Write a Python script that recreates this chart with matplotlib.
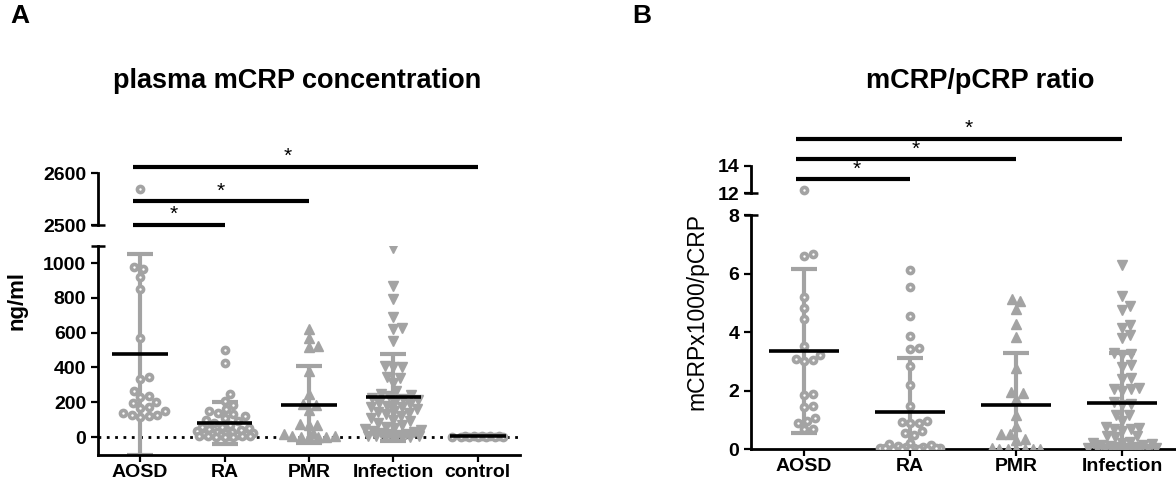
import numpy as np
import matplotlib
matplotlib.use("Agg")
import matplotlib.pyplot as plt

plt.rcParams["font.family"] = ["Liberation Sans", "DejaVu Sans"]

# ---- panel A : plasma mCRP concentration (ng/ml) ----
groups_a = ["AOSD", "RA", "PMR", "Infection", "control"]
aosd_a = [2569, 975, 965, 918, 852, 569, 345, 335, 263, 236, 230, 200, 195,
          170, 165, 150, 140, 128, 125, 120, 115]
ra_a = [502, 425, 249, 209, 186, 160, 150, 140, 130, 120, 110, 100, 90, 80,
        70, 60, 55, 50, 45, 40, 35, 30, 28, 25, 22, 20, 18, 15, 12, 10, 8, 6,
        5, 4, 3, 2, 1, 0]
pmr_a = [620, 569, 525, 520, 381, 247, 190, 182, 153, 75, 70, 68, 25, 20, 5,
         3, 2, 1, 0, 0]
inf_a = [1086, 866, 793, 688, 626, 620, 550, 410, 402, 400, 345, 340, 310,
         263, 250, 240, 235, 225, 220, 210, 200, 195, 190, 180, 175, 170, 160,
         150, 145, 140, 130, 120, 110, 100, 90, 80, 70, 60, 50, 45, 40, 35, 30,
         25, 20, 15, 10, 8, 5, 3, 2, 1, 0, 0]
ctrl_a = [8, 6, 5, 4, 3, 2, 2, 1, 1, 0, 0, 0]
mean_a = [475, 80, 186, 228, 3]
sd_a = [579, 123, 220, 251, 3]
# significance bars: (from group, to group, level, star x)
sig_a = [(0, 4, 2612, 1.75), (0, 2, 2546, 0.95), (0, 1, 2500, 0.4)]

# ---- panel B : mCRP/pCRP ratio ----
groups_b = ["AOSD", "RA", "PMR", "Infection"]
aosd_b = [12.2, 6.67, 6.61, 5.2, 4.82, 4.44, 3.53, 3.22, 3.09, 3.05, 3.02,
          1.88, 1.85, 1.47, 1.45, 1.06, 0.97, 0.89, 0.68, 0.7]
ra_b = [6.13, 5.53, 4.54, 3.85, 3.45, 3.42, 2.83, 2.2, 1.46, 0.97, 0.92, 0.9,
        0.88, 0.6, 0.55, 0.47, 0.2, 0.18, 0.12, 0.1, 0.08, 0.06, 0.05, 0.04,
        0.03, 0.02, 0.02, 0.01, 0.01, 0, 0, 0]
pmr_b = [5.13, 5.05, 4.79, 4.27, 3.83, 2.77, 1.95, 1.9, 1.72, 1.17, 0.78,
         0.51, 0.5, 0.34, 0.3, 0.02, 0.01, 0, 0, 0, 0, 0]
inf_b = [6.28, 5.24, 4.88, 4.74, 4.23, 4.13, 3.91, 3.8, 3.28, 3.25, 3.22,
         2.87, 2.8, 2.43, 2.4, 2.08, 2.06, 2.04, 1.98, 1.6, 1.55, 1.5, 1.17,
         1.15, 0.95, 0.75, 0.72, 0.7, 0.68, 0.6, 0.45, 0.43, 0.4, 0.25, 0.22,
         0.2, 0.18, 0.15, 0.12, 0.1, 0.08, 0.06, 0.05, 0.04, 0.03, 0.02, 0.01,
         0.01, 0, 0, 0, 0]
mean_b = [3.36, 1.26, 1.52, 1.57]
sd_b = [2.8, 1.85, 1.76, 1.71]
sig_b = [(0, 3, 16.0, 1.55), (0, 2, 14.5, 1.05), (0, 1, 13.0, 0.5)]

GRAY = "#a3a3a3"
W, H = 1176, 486
UP = 2  # small lift so the category labels stay inside the canvas
fig = plt.figure(figsize=(W / 100, H / 100), dpi=100)


def px_axes(left, top, right, bottom):
    top -= UP
    bottom -= UP
    return fig.add_axes([left / W, 1 - bottom / H, (right - left) / W, (bottom - top) / H])


def style(ax, xaxis=True):
    for s in ["top", "right"]:
        ax.spines[s].set_visible(False)
    ax.spines["left"].set_linewidth(2)
    ax.spines["bottom"].set_linewidth(2)
    ax.tick_params(width=1.6, length=5)
    ax.tick_params(axis="y", labelsize=14)
    ax.tick_params(axis="x", labelsize=14, pad=1.5)
    for lab in ax.get_yticklabels() + ax.get_xticklabels():
        lab.set_fontweight("bold")
    if not xaxis:
        ax.spines["bottom"].set_visible(False)
        ax.set_xticks([])
    ax.patch.set_alpha(0)


def brk(ax, yfrac, left=7, right=7):
    w = ax.get_position().width * W
    ax.plot([-left / w, right / w], [yfrac, yfrac], transform=ax.transAxes,
            color="k", lw=1.8, clip_on=False, solid_capstyle="butt")


def swarm(ax, xc, vals, d=8.5, maxw=28):
    # beeswarm offsets in pixels, squeezed into +-maxw
    vals = np.asarray(vals, float)
    ypx = ax.transData.transform(np.column_stack([np.full(len(vals), xc), vals]))[:, 1]
    x0 = ax.transData.transform([[xc, 0]])[0, 0]
    ppu = ax.transData.transform([[xc + 1, 0]])[0, 0] - x0
    steps = np.arange(0.5, maxw + 0.01, 0.5)
    cands = np.concatenate([[0.0], np.column_stack([steps, -steps]).ravel()])
    px, py = [], []
    offs = np.zeros(len(vals))
    for i in np.argsort(ypx):
        y = ypx[i]
        if px:
            ax_ = np.array(px)
            ay_ = np.array(py)
            dist = np.sqrt((cands[:, None] - ax_[None, :]) ** 2 + (y - ay_[None, :]) ** 2).min(axis=1)
            free = np.nonzero(dist >= d)[0]
            best = cands[free[0]] if len(free) else cands[np.argmax(dist)]
        else:
            best = 0.0
        px.append(best)
        py.append(y)
        offs[i] = best
    return xc + offs / ppu


def draw_group(ax, ax_top, xc, vals, mean, sd, marker, lim_top, maxw):
    vals = np.asarray(vals, float)
    low = vals[vals <= lim_top]
    high = vals[vals > lim_top]
    ax.errorbar([xc], [mean], yerr=[sd], fmt="none", ecolor=GRAY, elinewidth=3,
                capsize=9.5, capthick=3, zorder=2)
    xs = swarm(ax, xc, low, maxw=maxw)
    if marker == "o":
        kw = dict(ms=4.4, mfc="white", mec=GRAY, mew=2.6, ls="none", zorder=3)
        ax.plot(xs, low, "o", **kw)
        ax_top.plot([xc] * len(high), high, "o", clip_on=False, **kw)
    else:
        ax.plot(xs, low, marker, ms=7.5, mfc=GRAY, mec=GRAY, mew=1, zorder=3, ls="none")
    ax.plot([xc - 0.33, xc + 0.33], [mean, mean], color="k", lw=2.6, zorder=4,
            solid_capstyle="butt")


def sig(ax_top, bars):
    for g0, g1, lvl, sx in bars:
        ax_top.plot([g0 - 0.08, g1], [lvl, lvl], color="k", lw=3, clip_on=False,
                    solid_capstyle="butt")
        ax_top.annotate("*", (sx, lvl), xytext=(0, 0.5), textcoords="offset points",
                        ha="center", va="bottom", fontsize=15, annotation_clip=False)


# ================= panel A =================
axA = px_axes(98, 248, 520, 457)
axA.set_xlim(-0.5, 4.5)
axA.set_ylim(-103.4, 1097.7)
axA_t = px_axes(98, 175, 520, 227)
axA_t.set_xlim(-0.5, 4.5)
axA_t.set_ylim(2500, 2600)

axA.axhline(0, color="k", lw=2, ls=(0, (1, 2)), zorder=1)
data_a = [aosd_a, ra_a, pmr_a, inf_a, ctrl_a]
marks_a = ["o", "o", "^", "v", "o"]
for i, vals in enumerate(data_a):
    draw_group(axA, axA_t, i, vals, mean_a[i], sd_a[i], marks_a[i], 1097, 28)
sig(axA_t, sig_a)

axA.set_yticks([0, 200, 400, 600, 800, 1000])
axA.set_xticks(range(len(groups_a)))
axA.set_xticklabels(groups_a)
axA_t.set_yticks([2500, 2600])
style(axA)
style(axA_t, xaxis=False)
brk(axA, 1.0)
brk(axA_t, 0.0)

fig.text(17 / W, 1 - 300 / H, "ng/ml", rotation=90, ha="center", va="center",
         fontsize=16, fontweight="bold")
fig.text(297 / W, 1 - 81 / H, "plasma mCRP concentration", ha="center", va="center",
         fontsize=19.5, fontweight="bold")
fig.text(10 / W, 1 - 16 / H, "A", ha="left", va="center", fontsize=19, fontweight="bold")

# ================= panel B =================
axB = px_axes(751, 217, 1175, 451)
axB.set_xlim(-0.5, 3.5)
axB.set_ylim(0, 8)
axB_t = px_axes(751, 168, 1175, 195)
axB_t.set_xlim(-0.5, 3.5)
axB_t.set_ylim(12, 14)

data_b = [aosd_b, ra_b, pmr_b, inf_b]
marks_b = ["o", "o", "^", "v"]
widths_b = [30, 30, 24, 34]
for i, vals in enumerate(data_b):
    draw_group(axB, axB_t, i, vals, mean_b[i], sd_b[i], marks_b[i], 8, widths_b[i])
sig(axB_t, sig_b)

axB.set_yticks([0, 2, 4, 6, 8])
axB.set_xticks(range(len(groups_b)))
axB.set_xticklabels(groups_b)
axB_t.set_yticks([12, 14])
style(axB)
style(axB_t, xaxis=False)
brk(axB, 1.0)
brk(axB_t, 0.0)

fig.text(697 / W, 1 - 312 / H, "mCRPx1000/pCRP", rotation=90, ha="center", va="center",
         fontsize=16.5)
fig.text(980 / W, 1 - 81 / H, "mCRP/pCRP ratio", ha="center", va="center",
         fontsize=19.5, fontweight="bold")
fig.text(632 / W, 1 - 16 / H, "B", ha="left", va="center", fontsize=19, fontweight="bold")

fig.savefig("out.png", dpi=100)
